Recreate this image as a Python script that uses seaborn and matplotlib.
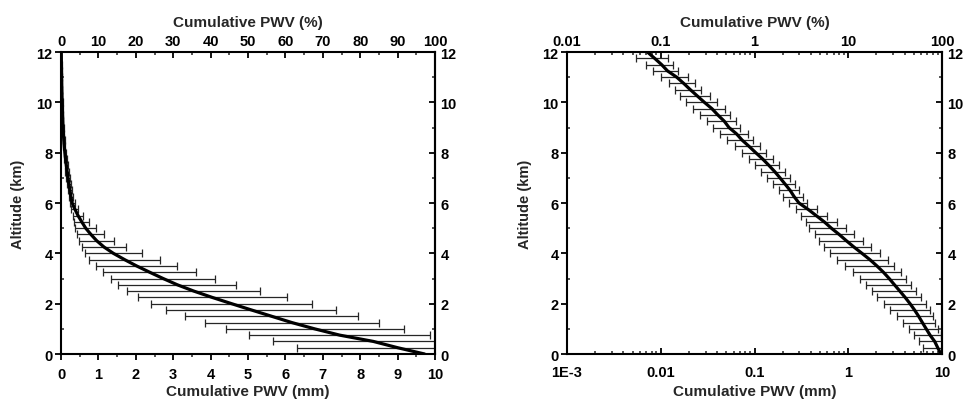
import numpy as np
import pandas as pd
import matplotlib
matplotlib.use("Agg")
import matplotlib.pyplot as plt
import seaborn as sns
from matplotlib.ticker import MultipleLocator, FixedLocator, FixedFormatter, LogLocator, NullFormatter

# ---------------- data ----------------
altitude_km = [0.0, 0.25, 0.5, 0.75, 1.0, 1.25, 1.5, 1.75, 2.0, 2.25, 2.5, 2.75,
               3.0, 3.25, 3.5, 3.75, 4.0, 4.25, 4.5, 4.75, 5.0, 5.25, 5.5, 5.75,
               6.0, 6.25, 6.5, 6.75, 7.0, 7.25, 7.5, 7.75, 8.0, 8.25, 8.5, 8.75,
               9.0, 9.25, 9.5, 9.75, 10.0, 10.25, 10.5, 10.75, 11.0, 11.25, 11.5, 11.75, 12.0]
mean_pwv_mm = [9.72, 9.0, 8.35, 7.45, 6.78, 6.17, 5.63, 5.09, 4.56, 4.04, 3.55, 3.11,
               2.73, 2.37, 2.02, 1.70, 1.40, 1.15, 0.955, 0.80, 0.66, 0.555, 0.455, 0.372,
               0.298, 0.265, 0.240, 0.212, 0.187, 0.164, 0.142, 0.122, 0.103, 0.0875, 0.0737, 0.0642,
               0.0534, 0.0476, 0.0406, 0.0351, 0.0292, 0.0246, 0.0207, 0.0176, 0.0148, 0.0118, 0.0102, 0.0086, 0.0072]
std_pwv_mm = [2.8, 2.7, 2.68, 2.42, 2.38, 2.33, 2.31, 2.27, 2.16, 1.99, 1.78, 1.58,
              1.40, 1.25, 1.09, 0.94, 0.76, 0.60, 0.465, 0.36, 0.28, 0.205, 0.145, 0.095,
              0.065, 0.062, 0.057, 0.055, 0.050, 0.046, 0.040, 0.035, 0.030, 0.026, 0.0228, 0.0217,
              0.0173, 0.0165, 0.0146, 0.0130, 0.0106, 0.0087, 0.0064, 0.0054, 0.0047, 0.0036, 0.0032, 0.0032, 0.0]

lin_x_ticks = [0, 1, 2, 3, 4, 5, 6, 7, 8, 9, 10]
lin_top_ticks = [0, 10, 20, 30, 40, 50, 60, 70, 80, 90, 100]
y_ticks = [0, 2, 4, 6, 8, 10, 12]
log_x_ticks = [1e-3, 1e-2, 1e-1, 1, 10]
log_x_labels = ["1E-3", "0.01", "0.1", "1", "10"]
log_top_ticks = [0.01, 0.1, 1, 10, 100]
log_top_labels = ["0.01", "0.1", "1", "10", "100"]

df = pd.DataFrame({"alt": altitude_km, "mean": mean_pwv_mm, "std": std_pwv_mm})
err = df.iloc[1:-1]

# ---------------- style ----------------
sns.set_theme(style="ticks")
plt.rcParams["font.family"] = ["Liberation Sans", "DejaVu Sans"]
plt.rcParams["font.weight"] = "bold"
plt.rcParams["axes.labelweight"] = "bold"
plt.rcParams["font.size"] = 10

fig = plt.figure(figsize=(9.64, 4.02), dpi=100)
axL = fig.add_axes([0.0633, 0.1169, 0.388, 0.7512])
axR = fig.add_axes([0.5882, 0.1169, 0.389, 0.7512])

axR.set_xscale("log")

for ax in (axL, axR):
    ax.errorbar(err["mean"], err["alt"], xerr=err["std"], fmt="none",
                ecolor="#262626", elinewidth=0.9, capsize=2.6, capthick=0.9, zorder=2)
    sns.lineplot(data=df, x="mean", y="alt", sort=False, orient="y", ax=ax,
                 color="black", linewidth=2.3, zorder=3)
    ax.set_ylim(0, 12)
    ax.yaxis.set_major_locator(FixedLocator(y_ticks))
    ax.yaxis.set_minor_locator(MultipleLocator(1))
    for s in ax.spines.values():
        s.set_visible(True)
        s.set_linewidth(1.5)
        s.set_color("black")
    ax.tick_params(axis="y", which="major", direction="out", length=4, width=1.3,
                   labelsize=10.5, pad=2, colors="black")
    ax.tick_params(axis="y", which="minor", direction="in", length=2.5, width=1.1)
    ax.set_ylabel("Altitude (km)", fontsize=10.5, fontweight="bold")
    ax.set_xlabel("Cumulative PWV (mm)", fontsize=11, fontweight="bold")
    ax.xaxis.set_label_coords(0.5, -0.100)

    sy = ax.secondary_yaxis("right")
    sy.yaxis.set_major_locator(FixedLocator(y_ticks))
    sy.yaxis.set_minor_locator(MultipleLocator(1))
    sy.tick_params(axis="y", which="major", direction="in", length=4, width=1.3,
                   labelsize=10.5, pad=4, colors="black")
    sy.tick_params(axis="y", which="minor", direction="in", length=2.5, width=1.1)
    sy.spines["right"].set_linewidth(1.5)

axL.yaxis.set_label_coords(-0.096, 0.5)
axR.yaxis.set_label_coords(-0.093, 0.5)

# left panel (linear)
axL.set_xlim(0, 10)
axL.xaxis.set_major_locator(FixedLocator(lin_x_ticks))
axL.xaxis.set_minor_locator(MultipleLocator(0.5))
axL.tick_params(axis="x", which="major", direction="out", length=4, width=1.3,
                labelsize=10.5, pad=5, colors="black")
axL.tick_params(axis="x", which="minor", direction="out", length=2.5, width=1.1)
topL = axL.secondary_xaxis("top", functions=(lambda x: x * 10, lambda p: p / 10))
topL.xaxis.set_major_locator(FixedLocator(lin_top_ticks))
topL.xaxis.set_minor_locator(MultipleLocator(5))
topL.tick_params(axis="x", which="major", direction="in", length=4, width=1.3,
                 labelsize=10.5, pad=3, colors="black")
topL.tick_params(axis="x", which="minor", direction="in", length=2.5, width=1.1)
topL.set_xlabel("Cumulative PWV (%)", fontsize=11, fontweight="bold", labelpad=6)

# right panel (log)
axR.set_xlim(1e-3, 10)
axR.xaxis.set_major_locator(FixedLocator(log_x_ticks))
axR.xaxis.set_major_formatter(FixedFormatter(log_x_labels))
axR.xaxis.set_minor_locator(LogLocator(base=10, subs=np.arange(2, 10)))
axR.xaxis.set_minor_formatter(NullFormatter())
axR.tick_params(axis="x", which="major", direction="in", length=4, width=1.3,
                labelsize=10.5, pad=8, colors="black")
axR.tick_params(axis="x", which="minor", direction="in", length=2.5, width=1.1)
topR = axR.secondary_xaxis("top", functions=(lambda x: x * 10, lambda p: p / 10))
topR.set_xscale("log")
topR.xaxis.set_major_locator(FixedLocator(log_top_ticks))
topR.xaxis.set_major_formatter(FixedFormatter(log_top_labels))
topR.xaxis.set_minor_locator(LogLocator(base=10, subs=np.arange(2, 10)))
topR.xaxis.set_minor_formatter(NullFormatter())
topR.tick_params(axis="x", which="major", direction="in", length=4, width=1.3,
                 labelsize=10.5, pad=3, colors="black")
topR.tick_params(axis="x", which="minor", direction="in", length=2.5, width=1.1)
topR.set_xlabel("Cumulative PWV (%)", fontsize=11, fontweight="bold", labelpad=6)

fig.savefig("out.png", dpi=100, facecolor="white")
